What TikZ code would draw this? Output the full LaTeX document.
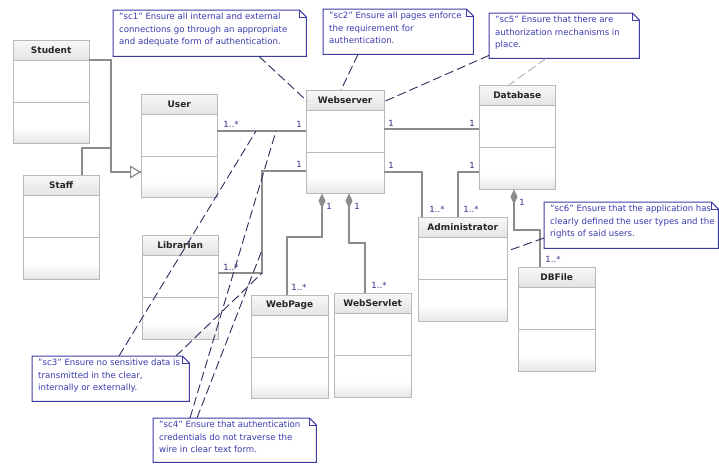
\documentclass[tikz,border=0pt]{standalone}
\usepackage{fontspec}
\setmainfont{DejaVu Sans}
\usetikzlibrary{calc,arrows.meta}
\definecolor{clsborder}{HTML}{B8B8B8}
\definecolor{hdrtop}{HTML}{F8F8F8}
\definecolor{hdrbot}{HTML}{E4E4E4}
\definecolor{bodybot}{HTML}{E6E6E6}
\definecolor{conncol}{HTML}{8C8C8C}
\definecolor{multcol}{HTML}{303088}
\definecolor{notecol}{HTML}{3C3CA4}
\definecolor{notetxt}{HTML}{3A3AB0}
\definecolor{linkcol}{HTML}{2C2C5C}
\definecolor{lightlink}{HTML}{A8A8A8}
\tikzset{
  classbox/.style={draw=none, fill=white, inner sep=0pt, anchor=north west, rectangle},
  clsline/.style={draw=clsborder, line width=0.9pt},
  clsname/.style={font=\fontsize{9}{11}\selectfont\bfseries, text=black!85, inner sep=0pt},
  conn/.style={draw=conncol, line width=1.2pt},
  mult/.style={font=\fontsize{8.5}{10}\selectfont, text=multcol, inner sep=0pt},
  notebox/.style={draw=none, inner sep=0pt, anchor=north west, rectangle},
  noteline/.style={draw=notecol, line width=1pt, fill=white},
  notetext/.style={font=\fontsize{8.6}{12.3}\selectfont, text=notetxt, align=left, inner sep=0pt, anchor=north west},
  notelink/.style={draw=linkcol, line width=0.9pt, dash pattern=on 9pt off 4pt},
  notelinklight/.style={draw=lightlink, line width=0.8pt, dash pattern=on 9pt off 4pt},
}
\newcommand\umlclass[6]{%
  \node[classbox, minimum width=#4pt, minimum height=#5pt] (#1) at (#2,#3) {};
  \shade[top color=hdrtop, bottom color=hdrbot] (#1.north west) rectangle ($(#1.north east)+(0,20)$);
  \shade[top color=white, bottom color=bodybot] ($(#1.south west)+(0,-16)$) rectangle (#1.south east);
  \draw[clsline] ($(#1.north west)+(0,20)$) -- ($(#1.north east)+(0,20)$);
  \draw[clsline] ($(#1.north west)+(0,62)$) -- ($(#1.north east)+(0,62)$);
  \draw[clsline] (#1.north west) rectangle (#1.south east);
  \node[clsname] at ($(#1.north)+(0,10.5)$) {#6};
}
\newcommand\umlnote[6]{%
  \node[notebox, minimum width=#4pt, minimum height=#5pt] (#1) at (#2,#3) {};
  \draw[noteline] (#1.north west) -- ($(#1.north east)+(-7,0)$) -- ($(#1.north east)+(0,7)$) -- (#1.south east) -- (#1.south west) -- cycle;
  \draw[noteline, fill=none] ($(#1.north east)+(-7,0)$) -- ($(#1.north east)+(-7,7)$) -- ($(#1.north east)+(0,7)$);
  \node[notetext] at ($(#1.north west)+(6,3)$) {#6};
}
\begin{document}
\begin{tikzpicture}[x=1pt,y=-1pt]
\useasboundingbox[fill=white] (0,0) rectangle (719,463);

% classes (placed first so connectors can refer to them)
\umlclass{student}{13}{40}{76}{103}{Student}
\umlclass{user}{141}{94}{76}{103}{User}
\umlclass{staff}{23}{175}{76}{104}{Staff}
\umlclass{ws}{306}{90}{78}{103}{Webserver}
\umlclass{db}{479}{85}{76}{104}{Database}
\umlclass{lib}{142}{235}{76}{104}{Librarian}
\umlclass{wp}{251}{295}{77}{103}{WebPage}
\umlclass{wsl}{334}{293}{77}{104}{WebServlet}
\umlclass{admin}{418}{217}{89}{104}{Administrator}
\umlclass{dbf}{518}{267}{77}{104}{DBFile}

% solid connectors
\draw[conn] (student.east |- 0,60) -- (111,60) -- (111,172) -- (user.west |- 0,172);
\draw[conn, -{Triangle[open, length=11pt, width=13pt, fill=white]}] (111,172) -- (user.west |- 0,172);
\draw[conn] (82,0 |- staff.north) -- (82,148) -- (111,148);
\draw[conn] (user.east |- 0,131) -- (ws.west |- 0,131);
\coordinate (libbend1) at (262,171);
\coordinate (libbend2) at (262,273);
\draw[conn] (ws.west |- 0,171) -- (libbend1) -- (libbend2) -- (lib.east |- 0,273);
\draw[conn] (ws.east |- 0,129) -- (db.west |- 0,129);
\draw[conn] (ws.east |- 0,172) -- (422,172) -- (422,0 |- admin.north);
\draw[conn] (db.west |- 0,172) -- (458,172) -- (458,0 |- admin.north);
\draw[conn, -{Diamond[length=15pt, width=7pt]}] (287,0 |- wp.north) -- (287,237) -- (322,237) -- (322,0 |- ws.south);
\draw[conn, -{Diamond[length=15pt, width=7pt]}] (365,0 |- wsl.north) -- (365,243) -- (349,243) -- (349,0 |- ws.south);
\draw[conn, -{Diamond[length=15pt, width=7pt]}] (540,0 |- dbf.north) -- (540,230) -- (514,230) -- (514,0 |- db.south);

% multiplicities
\node[mult] (m1) at (231,124) {1..*};
\node[mult] (m2) at (299,124) {1};
\node[mult] (m3) at (299,164) {1};
\node[mult] (m4) at (231,267) {1..*};
\node[mult] (m5) at (391,123) {1};
\node[mult] (m6) at (472,123) {1};
\node[mult] (m7) at (391,165) {1};
\node[mult] (m8) at (472,165) {1};
\node[mult] (m9) at (437,209) {1..*};
\node[mult] (m10) at (471,209) {1..*};
\node[mult] (m11) at (329,206) {1};
\node[mult] (m12) at (357,206) {1};
\node[mult] (m13) at (522,202) {1};
\node[mult] (m14) at (299,287) {1..*};
\node[mult] (m15) at (379,285) {1..*};
\node[mult] (m16) at (553,259) {1..*};

% notes
\umlnote{sc1}{113}{10}{193}{46}{"sc1" Ensure all internal and external\\connections go through an appropriate\\and adequate form of authentication.}
\umlnote{sc2}{323}{9}{150}{45}{"sc2" Ensure all pages enforce\\the requirement for\\authentication.}
\umlnote{sc5}{489}{13}{150}{45}{"sc5" Ensure that there are\\authorization mechanisms in\\place.}
\umlnote{sc6}{544}{202}{174}{46}{"sc6" Ensure that the application has\\clearly defined the user types and the\\rights of said users.}
\umlnote{sc3}{32}{356}{157}{45}{"sc3" Ensure no sensitive data is\\transmitted in the clear,\\internally or externally.}
\umlnote{sc4}{153}{418}{163}{44}{"sc4" Ensure that authentication\\credentials do not traverse the\\wire in clear text form.}

% note links
\coordinate (ua1) at (256,131);
\coordinate (ua2) at (276,131);
\coordinate (la1) at (262,250);
\draw[notelink] (259,0 |- sc1.south) -- ($(ws.north west)+(1,11)$);
\draw[notelink] (358,0 |- sc2.south) -- (341,0 |- ws.north);
\draw[notelink] ($(sc5.south west)+(0,-3)$) -- ($(ws.north east)+(1,11)$);
\draw[notelinklight] (546,0 |- sc5.south) -- (509,0 |- db.north);
\draw[notelink] (sc6.west |- 0,238) -- (admin.east |- 0,251);
\draw[notelink] (119,0 |- sc3.north) -- (ua1);
\draw[notelink] (176,0 |- sc3.north) -- (libbend2);
\draw[notelink] (190,0 |- sc4.north) -- (ua2);
\draw[notelink] (197,0 |- sc4.north) -- (la1);
\end{tikzpicture}
\end{document}
